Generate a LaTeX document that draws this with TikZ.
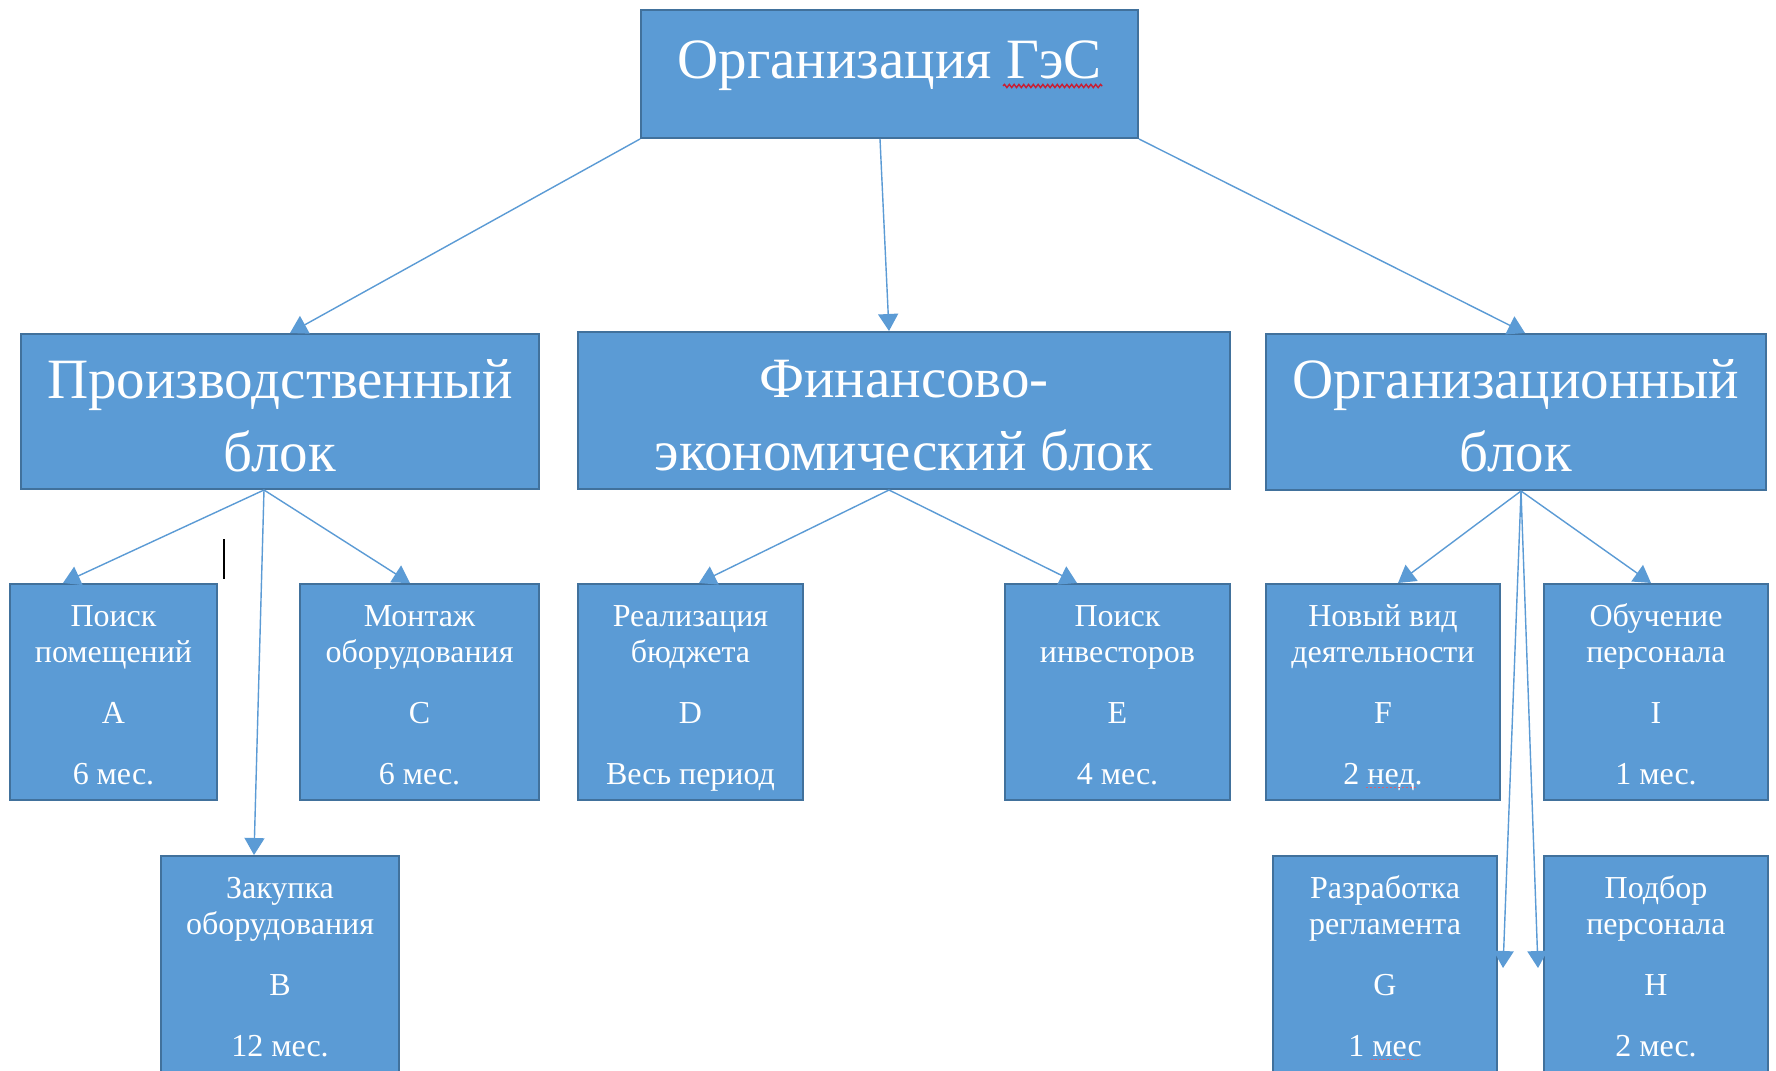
\documentclass[tikz,border=0pt]{standalone}
\usepackage{fontspec}
\setmainfont{Liberation Serif}
\usetikzlibrary{arrows.meta,calc,decorations.pathmorphing}
\definecolor{boxfill}{RGB}{91,155,213}
\definecolor{boxline}{RGB}{65,113,156}
\definecolor{linkblue}{RGB}{91,155,213}
\definecolor{spellred}{RGB}{200,30,50}
\newcommand{\bigfont}{\fontsize{28.5}{36.5}\selectfont\lineskiplimit=-100pt}
\newcommand{\smallfont}{\fontsize{16}{18}\selectfont\lineskiplimit=-100pt}
\newcommand{\blktext}[2]{\rule{0pt}{26pt}#1\\#2\rule[-3pt]{0pt}{3pt}}

\begin{document}
\begin{tikzpicture}[x=0.5pt,y=-0.5pt,
  anybox/.style={draw=boxline,fill=boxfill,line width=1pt,text=white,align=center,inner sep=2pt},
  blockbox/.style={anybox,font=\bigfont},
  taskbox/.style={anybox,font=\smallfont,minimum height=108pt},
  arrowline/.style={draw=linkblue,line width=0.7pt,-{Triangle[width=10pt,length=8.5pt]}}]
\path[use as bounding box,fill=white] (0,0) rectangle (1776,1070);
% root and blocks
\node[blockbox,minimum width=248.5pt,minimum height=64pt,text height=24pt,text depth=19pt] (ges) at (889.5,74) {Организация ГэС};
\node[blockbox,minimum width=259pt,minimum height=77.5pt] (prod) at (280,411.5) {\blktext{Производственный}{блок}};
\node[blockbox,minimum width=326pt,minimum height=78.5pt] (fin) at (904,410.5) {\blktext{Финансово-}{экономический блок}};
\node[blockbox,minimum width=250pt,minimum height=78pt] (org) at (1516,412) {\blktext{Организационный}{блок}};
% tasks
\foreach \nm/\px/\py/\bw/\one/\two/\dur in {
  A/113.5/692/103.5/Поиск/помещений/6 мес.,
  B/280/964/119/Закупка/оборудования/12 мес.,
  C/419.5/692/119.5/Монтаж/оборудования/6 мес.,
  D/690.5/692/112.5/Реализация/бюджета/Весь период,
  E/1117.5/692/112.5/Поиск/инвесторов/4 мес.,
  F/1383/692/117/Новый вид/деятельности/2 нед.,
  G/1385/964/112/Разработка/регламента/1 мес,
  H/1656/964/112/Подбор/персонала/2 мес.,
  I/1656/692/112/Обучение/персонала/1 мес.}
  \node[taskbox,minimum width=\bw pt] (t\nm) at (\px,\py) {\rule{0pt}{17pt}\one\\\two\\[12.5pt]\nm\\[12.5pt]\dur\rule[-4pt]{0pt}{4pt}};
% arrows
\draw[arrowline] (ges.south west) -- ($(prod.north)+(10,0)$);
\draw[arrowline] ($(ges.south)+(-9.5,0)$) -- ($(fin.north)+(-15,0)$);
\draw[arrowline] (ges.south east) -- ($(org.north)+(9,0)$);
\foreach \nm/\dx in {A/-50.5,B/-26,C/-9.5}
  \draw[arrowline] ($(prod.south)+(-16,0)$) -- ($(t\nm.north)+(\dx,0)$);
\foreach \nm/\dx in {D/8.5,E/-40.5}
  \draw[arrowline] ($(fin.south)+(-15,0)$) -- ($(t\nm.north)+(\dx,0)$);
\foreach \nm/\dx in {F/15,I/-5}
  \draw[arrowline] ($(org.south)+(5,0)$) -- ($(t\nm.north)+(\dx,0)$);
\draw[arrowline] ($(org.south)+(5,0)$) -- ($(tG.east)+(5,4)$);
\draw[arrowline] ($(org.south)+(5,0)$) -- ($(tH.west)+(-5,4)$);
% cursor and spelling marks
\draw[black,line width=0.6pt] (224,539) -- (224,579);
\draw[spellred,line width=0.7pt,decorate,decoration={snake,amplitude=0.8pt,segment length=2.4pt}] (1003,86) -- (1102,86);
\draw[spellred!70,line width=0.5pt,dash pattern=on 1pt off 1pt] ($(tF.north)+(-17,204)$) -- ($(tF.north)+(35,204)$);
\draw[spellred!70,line width=0.5pt,dash pattern=on 1pt off 1pt] ($(tG.north)+(-14,204)$) -- ($(tG.north)+(29,204)$);
\end{tikzpicture}
\end{document}
